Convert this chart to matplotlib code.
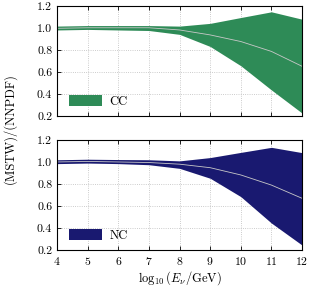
import matplotlib
matplotlib.use("Agg")
import matplotlib.pyplot as plt

plt.rcParams['font.family'] = 'serif'
plt.rcParams['font.serif'] = ['cmr10', 'DejaVu Serif']
plt.rcParams['mathtext.fontset'] = 'cm'
plt.rcParams['axes.formatter.use_mathtext'] = True

# log10(E_nu / GeV)
log_e = [4, 5, 6, 7, 8, 9, 10, 11, 12]

# charged current ratio band
cc_upper = [1.015, 1.02, 1.02, 1.02, 1.015, 1.04, 1.093, 1.145, 1.078]
cc_lower = [0.98, 0.985, 0.98, 0.975, 0.94, 0.83, 0.655, 0.435, 0.225]
cc_central = [0.995, 1.0, 1.0, 1.0, 0.98, 0.935, 0.875, 0.785, 0.65]

# neutral current ratio band
nc_upper = [1.02, 1.025, 1.022, 1.02, 1.01, 1.04, 1.087, 1.133, 1.085]
nc_lower = [0.985, 0.99, 0.985, 0.975, 0.942, 0.852, 0.685, 0.445, 0.245]
nc_central = [1.0, 1.005, 1.0, 0.995, 0.98, 0.948, 0.882, 0.79, 0.67]

yticks = [0.2, 0.4, 0.6, 0.8, 1.0, 1.2]

fig = plt.figure(figsize=(3.12, 2.88), dpi=100)
ax_cc = fig.add_axes([0.183, 0.598, 0.785, 0.382])
ax_nc = fig.add_axes([0.183, 0.132, 0.785, 0.382])

panels = [
    (ax_cc, cc_lower, cc_upper, cc_central, '#2e8b57', 'CC'),
    (ax_nc, nc_lower, nc_upper, nc_central, '#191970', 'NC'),
]

for ax, lo, hi, mid, col, name in panels:
    ax.fill_between(log_e, lo, hi, color=col, lw=0, label=name)
    ax.plot(log_e, mid, color='#c8c8c8', lw=0.6)
    ax.set_xlim(4, 12)
    ax.set_ylim(0.2, 1.2)
    ax.set_yticks(yticks)
    ax.set_yticklabels(['%.1f' % v for v in yticks])
    ax.set_xticks(log_e)
    ax.grid(True, ls=':', color='#bbbbbb', lw=0.6)
    ax.set_axisbelow(True)
    ax.tick_params(direction='in', top=True, right=True, labelsize=8.5,
                   length=3, width=0.6)
    for s in ax.spines.values():
        s.set_linewidth(0.8)
    ax.legend(loc='lower left', frameon=False, fontsize=9,
              handlelength=2.6, handleheight=0.9, handletextpad=0.6,
              borderpad=0.2, borderaxespad=0.0,
              bbox_to_anchor=(0.04, 0.05))

ax_cc.tick_params(labelbottom=False)
ax_nc.set_xlabel(r'$\log_{10}(E_\nu/\mathrm{GeV})$', fontsize=9, labelpad=2)
fig.text(0.03, 0.555, '(MSTW)/(NNPDF)', rotation=90, va='center', ha='center',
         fontsize=9)

fig.savefig('out.png', dpi=100)
